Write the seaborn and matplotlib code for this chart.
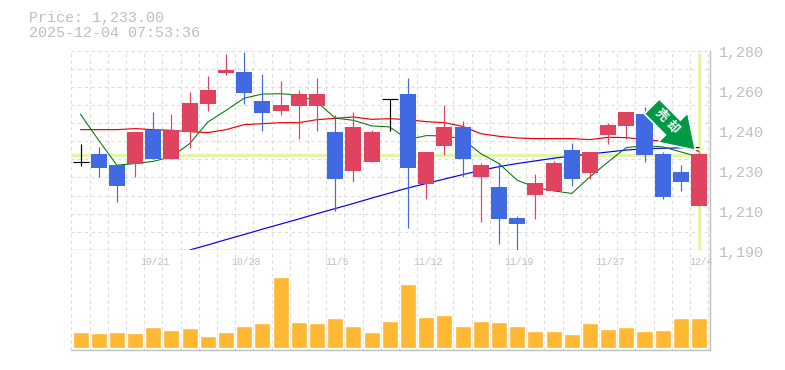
import matplotlib
matplotlib.use("Agg")
import matplotlib.pyplot as plt
from matplotlib.patches import Polygon
from matplotlib.transforms import IdentityTransform
import numpy as np
import pandas as pd
import seaborn as sns

sns.set_style("white")
plt.rcParams['font.family'] = ['Liberation Mono', 'Noto Sans CJK JP', 'DejaVu Sans']

price_title = "Price: 1,233.00"
time_title = "2025-12-04 07:53:36"
last_price = 1233.0

opens = [1229.9,1233.2,1228.25,1228.7,1244.3,1230.95,1243.4,1255.7,1269.65,1270.1,1257.05,1252.55,1254.8,1254.8,
         1243.1,1225.55,1229.6,1258.25,1260.2,1219.7,1236.8,1245.35,1222.85,1218.35,1204.4,1214.75,1216.55,1235,
         1224.65,1241.75,1245.8,1251.2,1233.2,1225.1,1209.8]
closes = [1229.9,1226.9,1218.8,1243.1,1230.95,1244,1256.15,1262,1271,1260.65,1251.65,1255.25,1260.2,1260.2,
          1221.95,1245.35,1243.1,1258.25,1226.9,1234.1,1245.35,1230.95,1228.25,1203.95,1201.7,1220.15,1229.15,1221.95,
          1234.1,1246.25,1252.1,1232.75,1213.85,1220.6,1233.2]
highs = [1238,1236.35,1228.25,1243.1,1252.1,1251.2,1261.1,1268.3,1278.2,1279.1,1269.2,1266.05,1262,1267.4,
         1250.75,1252.1,1244,1258.25,1267.4,1234.1,1255.25,1248.05,1229.15,1229.15,1205.3,1224.2,1230.05,1238.15,
         1234.1,1247.15,1252.1,1254.35,1234.1,1228.25,1234.1]
lows = [1228,1222.85,1211.6,1222.85,1230.95,1230.95,1235.9,1252.55,1268.75,1255.7,1243.55,1250.75,1239.95,1243.55,
        1207.55,1220.6,1229.6,1243.55,1199.9,1212.95,1232.75,1222.85,1202.6,1192.7,1189.55,1203.95,1216.55,1218.8,
        1221.95,1237.7,1239.95,1229.6,1212.95,1216.55,1209.8]
ma_short = [1251.2,1239.5,1228.25,1229,1230,1232,1238,1247.75,1253,1258.5,1260.35,1260.5,1259.9,1256.75,1249.5,
            1248.5,1246,1245.5,1239.8,1241.6,1241.5,1240,1233.5,1229,1221.5,1218.2,1216.7,1215.5,1223,1229.75,
            1236.2,1237.1,1236.5,1234.25,1232]
ma_mid = [1244.3,1244.3,1244.3,1244.75,1244.3,1244,1243.4,1242.95,1244.3,1246.55,1247,1247.45,1247.45,1248.8,1249.4,
          1250,1248.95,1249.25,1248.8,1247.9,1247.45,1245.8,1242.5,1241.3,1240.55,1240.25,1240.25,1240.25,1239.8,
          1240.85,1240.7,1239.8,1239.05,1236.8,1234.5]
ma_long = [np.nan]*6 + [1190,1192.3,1194.7,1197,1199.4,1201.7,1204,1206.4,1208.7,1211,1213.4,1215.7,1218,
           1220,1222,1224,1225.9,1227.6,1229,1230.2,1231.4,1232.4,1233.3,1234.2,1235.1,1235.7,1235.9,1236.1,1236.2]
volumes = [16,15,16,15,21,18,20,12,16,22,25,71,26,25,30,22,16,27,64,31,33,22,27,26,22,17,17,14,25,19,21,17,18,30,30]
date_positions = [4,9,14,19,24,29,34]
date_labels = ["10/21","10/28","11/5","11/12","11/19","11/27","12/4"]
ytick_values = [1280,1262,1244,1226,1208,1190]
ytick_labels = ["1,280","1,260","1,240","1,230","1,210","1,190"]
arrow_tail = (31.4, 1254.8)
arrow_tip = (33.8, 1235.0)
arrow_chars = ["売", "却"]
arrow_char_x = [31.9, 32.5]
arrow_char_y = [1250.75, 1245.35]

days = np.arange(len(opens))
frame = pd.DataFrame({"day": days, "short": ma_short, "mid": ma_mid, "long": ma_long, "vol": volumes})

RED, BLUE, GREY, GRID, LIME = "#E0435F", "#4169E1", "#BFBFBF", "#DCDCDC", "#E3F5A8"

W, H = 785, 370
fig = plt.figure(figsize=(W/100, H/100), dpi=100, facecolor="white")
left, right, top, mid, bot = 70.5/W, 710/W, 1-50.5/H, 1-250/H, 1-350/H
ax = fig.add_axes([left, mid, right-left, top-mid])
axv = fig.add_axes([left, bot, right-left, mid-bot])
xlim = (-0.55, 34.6)

def grid_v(a):
    a.set_xticks(np.arange(-0.5, 35, 1))
    a.grid(True, axis="x", color=GRID, linestyle=(0, (3, 3)), linewidth=0.8)
    a.set_axisbelow(True)
    a.tick_params(length=0, labelbottom=False, labelleft=False)
    a.set_facecolor("white")

# price panel
ax.axhline(last_price, color=LIME, lw=2.4, zorder=1.5)
ax.vlines(34, 1190.5, 1279, color=LIME, lw=2.4, zorder=1.5)
sns.lineplot(data=frame, x="day", y="long", ax=ax, color="#0000EE", lw=0.85, errorbar=None, zorder=2)
sns.lineplot(data=frame, x="day", y="mid", ax=ax, color="#EE0000", lw=0.85, errorbar=None, zorder=2)
sns.lineplot(data=frame, x="day", y="short", ax=ax, color="#007700", lw=0.75, errorbar=None, zorder=2)
for d, o, c, h, l in zip(days, opens, closes, highs, lows):
    col = "black" if o == c else (RED if c > o else BLUE)
    ax.vlines(d, l, h, color=col, lw=0.85, zorder=3)
    if o == c:
        ax.hlines(o, d-0.44, d+0.44, color=col, lw=0.85, zorder=3)
    else:
        ax.bar(d, abs(c-o), bottom=min(o, c), width=0.88, color=col, lw=0, zorder=3)
ax.set_xlim(*xlim); ax.set_ylim(1190, 1280)
ax.set_yticks(np.linspace(1280, 1190, 12))
ax.grid(True, axis="y", color=GRID, linestyle=(0, (3, 3)), linewidth=0.8)
grid_v(ax)
ax.set_xlabel(""); ax.set_ylabel("")

# signal arrow: geometry worked out in pixels along the tail-to-tip direction
tail_px, tip_px = ax.transData.transform([arrow_tail, arrow_tip])
axis_dir = (tip_px - tail_px) / np.linalg.norm(tip_px - tail_px)
normal = np.array([-axis_dir[1], axis_dir[0]])
neck = tip_px - axis_dir * 32
shaft_half, head_half = 10.5, 21
outline = [tail_px + normal*shaft_half, neck + normal*shaft_half, neck + normal*head_half, tip_px,
           neck - normal*head_half, neck - normal*shaft_half, tail_px - normal*shaft_half]
ax.add_patch(Polygon(outline, closed=True, transform=IdentityTransform(), facecolor="#009944",
                     edgecolor="white", lw=1.2, zorder=6, clip_on=False))
for ch, cx, cy in zip(arrow_chars, arrow_char_x, arrow_char_y):
    ax.text(cx, cy, ch, rotation=-45, color="white", fontsize=9, fontweight="bold",
            ha="center", va="center", zorder=7, family=["Noto Sans CJK JP"], rotation_mode="anchor")

# volume panel
sns.barplot(data=frame, x="day", y="vol", ax=axv, color="#FFB833", width=0.88, saturation=1, errorbar=None, zorder=3)
axv.set_xlim(*xlim); axv.set_ylim(-2, 98)
grid_v(axv)
axv.set_xlabel(""); axv.set_ylabel("")

for a in (ax, axv):
    for s in a.spines.values():
        s.set_visible(False)
    for s in ("bottom", "right"):
        a.spines[s].set_visible(True)
        a.spines[s].set_color(GREY)
        a.spines[s].set_linewidth(1.0)

# text
for p, lab in zip(date_positions, date_labels):
    axv.annotate(lab, xy=(p, 1), xycoords=axv.get_xaxis_transform(), xytext=(2, -12), textcoords="offset pixels",
                 ha="center", va="center", fontsize=7.1, color=GREY, zorder=8)
for v, lab in zip(ytick_values, ytick_labels):
    ax.annotate(lab, xy=(1, v), xycoords=ax.get_yaxis_transform(), xytext=(9, -3), textcoords="offset pixels",
                ha="left", va="center", fontsize=10.8, color=GREY, annotation_clip=False)
fig.text(29/W, 1-18/H, price_title, fontsize=10.8, color=GREY, ha="left", va="center")
fig.text(29/W, 1-33/H, time_title, fontsize=10.8, color=GREY, ha="left", va="center")

fig.savefig("out.png", dpi=100, facecolor="white")
